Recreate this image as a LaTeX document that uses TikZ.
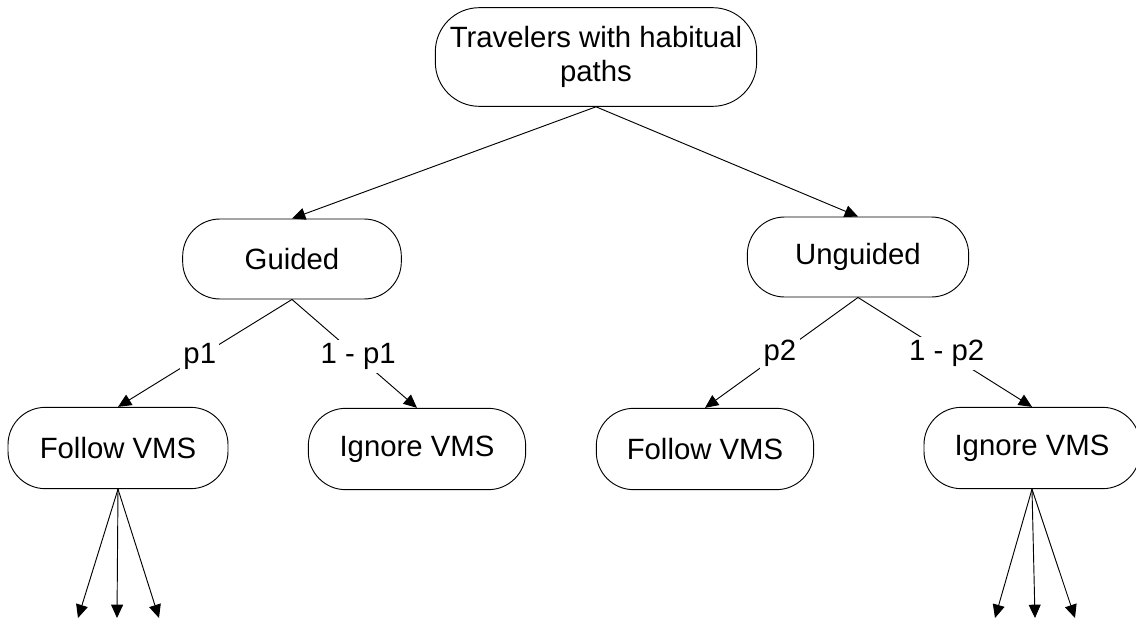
\documentclass[tikz,border=0pt]{standalone}
\usepackage{fontspec}
\setmainfont{Liberation Sans}
\usepackage{tikz}
\usetikzlibrary{arrows.meta}

\begin{document}
\begin{tikzpicture}[x=0.75pt,y=0.75pt,yscale=-1,xscale=1,
  every node/.style={font=\fontsize{22}{25}\selectfont},
  pill/.style={draw,line width=0.7pt,rounded corners=28pt,inner sep=2pt,minimum width=165pt,minimum height=61pt},
  prob/.style={fill=white,inner sep=2.5pt},
  arr/.style={line width=0.7pt,-{Triangle[length=10pt,width=9pt]}}]
\useasboundingbox (0,0) rectangle (1136,628);

% Text Node
\node (trav) at (596,57) [pill,rounded corners=33pt,minimum width=241pt,minimum height=74pt,align=center] {Travelers with habitual\\paths};
% Text Node
\node (guided) at (292,259) [pill,minimum width=164pt,minimum height=60pt] {Guided};
% Text Node
\node (unguided) at (858,257) [pill,minimum width=166pt,minimum height=60pt] {Unguided};
% Text Node
\node (follow1) at (118,448) [pill] {Follow VMS};
% Text Node
\node (ignore1) at (417,449) [pill,minimum width=163pt] {Ignore VMS};
% Text Node
\node (follow2) at (705,449) [pill,minimum width=163pt] {Follow VMS};
% Text Node
\node (ignore2) at (1032,448) [pill,minimum width=162pt] {Ignore VMS};

% end points below the leaves
\coordinate (fa) at (78,618);
\coordinate (fb) at (117,618);
\coordinate (fc) at (159,618);
\coordinate (ia) at (995,618);
\coordinate (ib) at (1035,618);
\coordinate (ic) at (1075,618);

% Connection
\draw [arr] (trav.south) -- (guided.north);
% Connection
\draw [arr] (trav.south) -- (unguided.north);
% Connection
\draw [arr] (guided.south) -- (follow1.north) node [prob,pos=0.53] {p1};
% Connection
\draw [arr] (guided.south) -- (ignore1.north) node [prob,pos=0.53] {1 - p1};
% Connection
\draw [arr] (unguided.south) -- (follow2.north) node [prob,pos=0.51] {p2};
% Connection
\draw [arr] (unguided.south) -- (ignore2.north) node [prob,pos=0.51] {1 - p2};
% Connection
\draw [arr] (follow1.south) -- (fa);
\draw [arr] (follow1.south) -- (fb);
\draw [arr] (follow1.south) -- (fc);
% Connection
\draw [arr] (ignore2.south) -- (ia);
\draw [arr] (ignore2.south) -- (ib);
\draw [arr] (ignore2.south) -- (ic);

\end{tikzpicture}
\end{document}
